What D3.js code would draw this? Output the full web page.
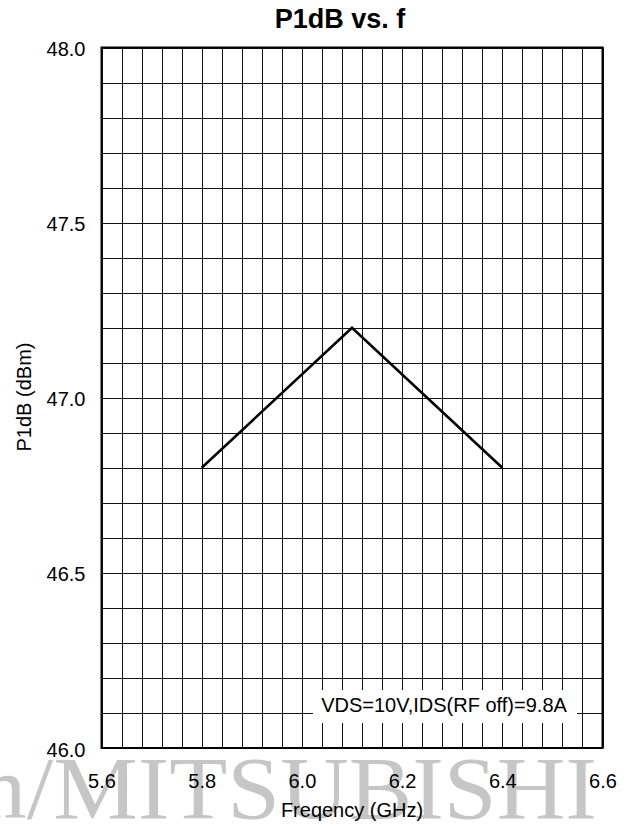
<!DOCTYPE html>
<html>
<head>
<meta charset="utf-8">
<script src="https://cdn.jsdelivr.net/npm/d3@7"></script>
<style>
  html, body { margin: 0; padding: 0; background: #fff; }
  svg { display: block; }
  text { font-family: Arial, "Liberation Sans", sans-serif; }
</style>
</head>
<body>
<div id="chart"></div>
<script>
// ---- data ----
const freq = [5.8, 6.1, 6.4];          // GHz
const p1db = [46.8, 47.2, 46.8];       // dBm
const xTicks = [5.6, 5.8, 6.0, 6.2, 6.4, 6.6];
const yTicks = [46.0, 46.5, 47.0, 47.5, 48.0];
const xDomain = [5.6, 6.6];
const yDomain = [46.0, 48.0];
const xGridStep = 0.04;
const yGridStep = 0.1;
const titleText = "P1dB vs. f";
const xLabel = "Freqency (GHz)";
const yLabel = "P1dB (dBm)";
const note = "VDS=10V,IDS(RF off)=9.8A";
const watermark = "m/MITSUBISHI";

// ---- layout ----
const W = 634, H = 829;
const L = 101.5, R = 602.5, T = 47.5, B = 748;

const svg = d3.select("#chart").append("svg").attr("width", W).attr("height", H);

const x = d3.scaleLinear().domain(xDomain).range([L, R]);
const y = d3.scaleLinear().domain(yDomain).range([B, T]);

// watermark (behind)
svg.append("g")
  .attr("transform", `translate(597,818) scale(1.08,1)`)
  .append("text")
  .attr("text-anchor", "end")
  .style("font-family", "'Liberation Serif', 'Times New Roman', serif")
  .style("font-size", "88px")
  .attr("fill", "#c6c6c6")
  .text(watermark);

// grid
const nx = Math.round((xDomain[1] - xDomain[0]) / xGridStep);
const ny = Math.round((yDomain[1] - yDomain[0]) / yGridStep);
const xg = d3.range(nx + 1).map(i => xDomain[0] + i * xGridStep);
const yg = d3.range(ny + 1).map(i => yDomain[0] + i * yGridStep);

const grid = svg.append("g");
grid.selectAll("line.v").data(xg).join("line")
  .attr("x1", d => Math.round(x(d)) + 0.5).attr("x2", d => Math.round(x(d)) + 0.5)
  .attr("y1", T).attr("y2", B)
  .attr("stroke", "#111").attr("stroke-width", 1);
grid.selectAll("line.h").data(yg).join("line")
  .attr("y1", d => Math.round(y(d)) + 0.5).attr("y2", d => Math.round(y(d)) + 0.5)
  .attr("x1", L).attr("x2", R)
  .attr("stroke", "#111").attr("stroke-width", 1);

// note box
const noteG = svg.append("g");
noteG.append("rect")
  .attr("x", 313).attr("y", 690).attr("width", 264).attr("height", 33)
  .attr("fill", "#fff");
noteG.append("text")
  .attr("x", 444).attr("y", 712)
  .attr("text-anchor", "middle")
  .style("font-size", "20px")
  .attr("fill", "#000")
  .text(note);

// border
svg.append("rect")
  .attr("x", L).attr("y", T).attr("width", R - L).attr("height", B - T)
  .attr("fill", "none").attr("stroke", "#000").attr("stroke-width", 2);

// data line
svg.append("path")
  .datum(freq.map((f, i) => [f, p1db[i]]))
  .attr("fill", "none").attr("stroke", "#000").attr("stroke-width", 2.6)
  .attr("d", d3.line().x(d => x(d[0])).y(d => y(d[1])));

// axes (labels only, via d3 axes)
const xAxis = d3.axisBottom(x).tickValues(xTicks).tickFormat(d3.format(".1f")).tickSize(0).tickPadding(0);
const gx = svg.append("g").attr("transform", `translate(0,${B})`).call(xAxis);
gx.select(".domain").remove();
gx.selectAll("text").attr("dy", null).attr("y", 40)
  .style("font-size", "20px").style("font-family", "Arial, 'Liberation Sans', sans-serif").attr("fill", "#000");

const yAxis = d3.axisLeft(y).tickValues(yTicks).tickFormat(d3.format(".1f")).tickSize(0).tickPadding(0);
const gy = svg.append("g").attr("transform", `translate(${L},0)`).call(yAxis);
gy.select(".domain").remove();
gy.selectAll("text").attr("dy", null).attr("x", -16).attr("y", 8)
  .style("font-size", "20px").style("font-family", "Arial, 'Liberation Sans', sans-serif").attr("fill", "#000");

// title
svg.append("text")
  .attr("x", 340).attr("y", 28)
  .attr("text-anchor", "middle")
  .style("font-size", "27px").style("font-weight", "bold")
  .text(titleText);

// x label
svg.append("text")
  .attr("x", 352).attr("y", 817)
  .attr("text-anchor", "middle")
  .style("font-size", "20px")
  .text(xLabel);

// y label
svg.append("text")
  .attr("transform", `translate(31,397) rotate(-90)`)
  .attr("text-anchor", "middle")
  .style("font-size", "20px")
  .text(yLabel);
</script>
</body>
</html>
